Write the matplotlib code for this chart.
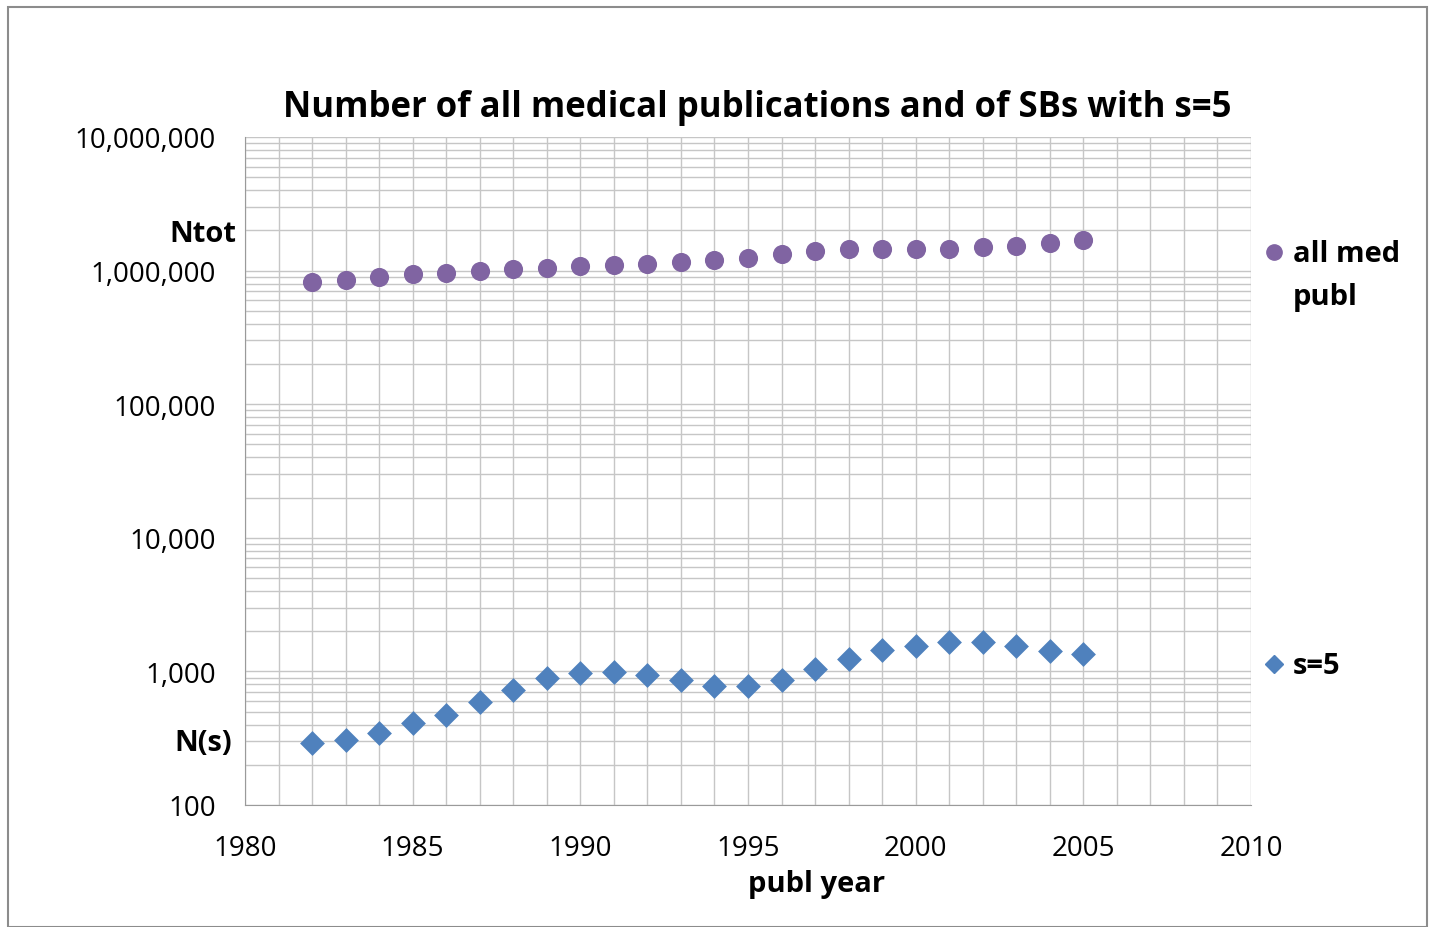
import matplotlib
matplotlib.use("Agg")
import matplotlib.pyplot as plt
from matplotlib.ticker import FixedLocator, LogLocator, NullFormatter, FuncFormatter

plt.rcParams['font.family'] = ['Open Sans', 'DejaVu Sans']

years = list(range(1982, 2006))
all_med = [828e3, 856e3, 902e3, 940e3, 966e3, 1.0e6, 1.035e6, 1.045e6, 1.08e6, 1.10e6,
           1.12e6, 1.16e6, 1.20e6, 1.25e6, 1.32e6, 1.39e6, 1.44e6, 1.44e6, 1.46e6, 1.46e6,
           1.49e6, 1.54e6, 1.62e6, 1.68e6]
s5 = [289, 305, 344, 408, 469, 586, 721, 887, 966, 983, 933, 857, 780, 780, 857, 1035,
      1230, 1437, 1538, 1649, 1649, 1538, 1411, 1341]

purple = '#8064A2'
blue = '#4F81BD'
grid_c = '#c6c6c6'

fig = plt.figure(figsize=(14.29, 9.28), dpi=100)
ax = fig.add_axes([245/1429, 1-806/928, (1251-245)/1429, (806-138)/928])

ax.scatter(years, all_med, s=190, marker='o', color=purple, zorder=3, linewidths=0)
ax.scatter(years, s5, s=160, marker='D', color=blue, zorder=3, linewidths=0)

ax.set_yscale('log')
ax.set_ylim(100, 1e7)
ax.set_xlim(1980, 2010)
ax.set_xticks(range(1980, 2011, 5))
ax.xaxis.set_minor_locator(FixedLocator(range(1980, 2011)))
ax.yaxis.set_major_locator(LogLocator(base=10, numticks=10))
ax.yaxis.set_minor_locator(LogLocator(base=10, subs=range(2, 10), numticks=100))
ax.yaxis.set_minor_formatter(NullFormatter())
ax.yaxis.set_major_formatter(FuncFormatter(lambda v, p: f"{int(round(v)):,}"))

ax.grid(True, which='both', axis='both', color=grid_c, linewidth=1.0)
ax.set_axisbelow(True)
for side in ['top', 'right']:
    ax.spines[side].set_visible(False)
for side in ['left', 'bottom']:
    ax.spines[side].set_color('#9a9a9a')
ax.tick_params(which='both', length=0)
ax.tick_params(axis='both', labelsize=20)
ax.tick_params(axis='y', pad=21)
ax.tick_params(axis='x', pad=21)

fig.text(757/1429, 1-108/928, "Number of all medical publications and of SBs with s=5",
         fontsize=25, fontweight='bold', ha='center', va='center')
fig.text(817/1429, 1-885/928, "publ year", fontsize=21, fontweight='bold',
         ha='center', va='center')

fig.text(236/1429, 1-234/928, "Ntot", fontsize=21, fontweight='bold', ha='right', va='center')
fig.text(232/1429, 1-744/928, "N(s)", fontsize=21, fontweight='bold', ha='right', va='center')

# legend entries
fig.lines.append(plt.Line2D([1274/1429], [1-253/928], marker='o', markersize=11,
                            color=purple, linestyle='none', transform=fig.transFigure))
fig.text(1293/1429, 1-255/928, "all med", fontsize=21, fontweight='bold', va='center')
fig.text(1293/1429, 1-298/928, "publ", fontsize=21, fontweight='bold', va='center')
fig.lines.append(plt.Line2D([1274/1429], [1-665/928], marker='D', markersize=9,
                            color=blue, linestyle='none', transform=fig.transFigure))
fig.text(1293/1429, 1-667/928, "s=5", fontsize=21, fontweight='bold', va='center')

# outer frame
fig.patches.append(plt.Rectangle((8/1429, 0), (1427-8)/1429, 1-8/928, fill=False,
                                 edgecolor='#8c8c8c', linewidth=1.5, transform=fig.transFigure))

fig.savefig("out.png", dpi=100)
